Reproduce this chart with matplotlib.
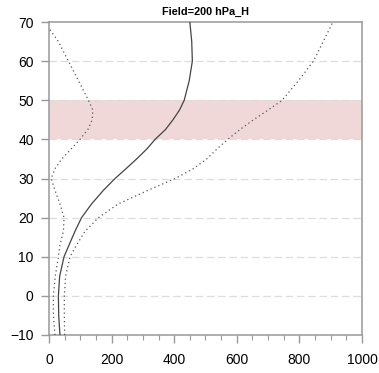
import numpy as np
import matplotlib
matplotlib.use('Agg')
import matplotlib.pyplot as plt
from matplotlib.ticker import MultipleLocator

plt.rcParams['font.family'] = ['Liberation Sans', 'DejaVu Sans']

# values
heights = [-10, -5, 0, 5, 10, 13, 16.5, 20, 23.5, 27, 30, 32.5, 35, 37.5, 40, 42.5, 45, 47.5, 50, 55, 60, 65, 70]
mean_vals = [35, 31, 30, 34, 48, 64, 83, 104, 136, 174, 211, 246, 280, 312, 339, 372, 396, 417, 432, 448, 458, 456, 450]
lower_vals = [19, 14, 14, 20, 30, 35, 46, 48, 35, 19, 7, 19, 41, 70, 99, 124, 138, 140, 126, 94, 62, 30, -14]
upper_vals = [50, 49, 49, 53, 67, 88, 115, 158, 221, 317, 403, 461, 504, 536, 571, 610, 653, 700, 745, 797, 845, 876, 907]
band = (40, 50)
title = 'Field=200 hPa_H'

fig = plt.figure(figsize=(3.79, 3.73), dpi=100)
ax = fig.add_axes([49/379, 1 - 335/373, 313/379, 313/373])

ax.axhspan(band[0], band[1], color='#f0d8d8', lw=0, zorder=0.5)
for yg in range(0, 70, 10):
    ax.axhline(yg, color='#dddddd', lw=0.9, ls=(0, (6, 3)), zorder=1)

ax.plot(mean_vals, heights, color='#444444', lw=0.9, zorder=3)
ax.plot(lower_vals, heights, color='#555555', lw=0.9, ls=(0, (1, 2.4)), zorder=3)
ax.plot(upper_vals, heights, color='#555555', lw=0.9, ls=(0, (1, 2.4)), zorder=3)

ax.set_xlim(0, 1000)
ax.set_ylim(-10, 70)
ax.xaxis.set_major_locator(MultipleLocator(200))
ax.xaxis.set_minor_locator(MultipleLocator(50))
ax.yaxis.set_major_locator(MultipleLocator(10))

for s in ax.spines.values():
    s.set_color('#999999')
    s.set_linewidth(1.1)
ax.tick_params(which='major', length=6, width=1, color='#999999',
               labelsize=10, pad=5)
ax.tick_params(axis='x', which='major', pad=7)
ax.tick_params(which='minor', length=3.5, width=0.8, color='#999999')

ax.set_title(title, fontsize=7.8, fontweight='bold', pad=5)

fig.savefig('out.png', dpi=100)
